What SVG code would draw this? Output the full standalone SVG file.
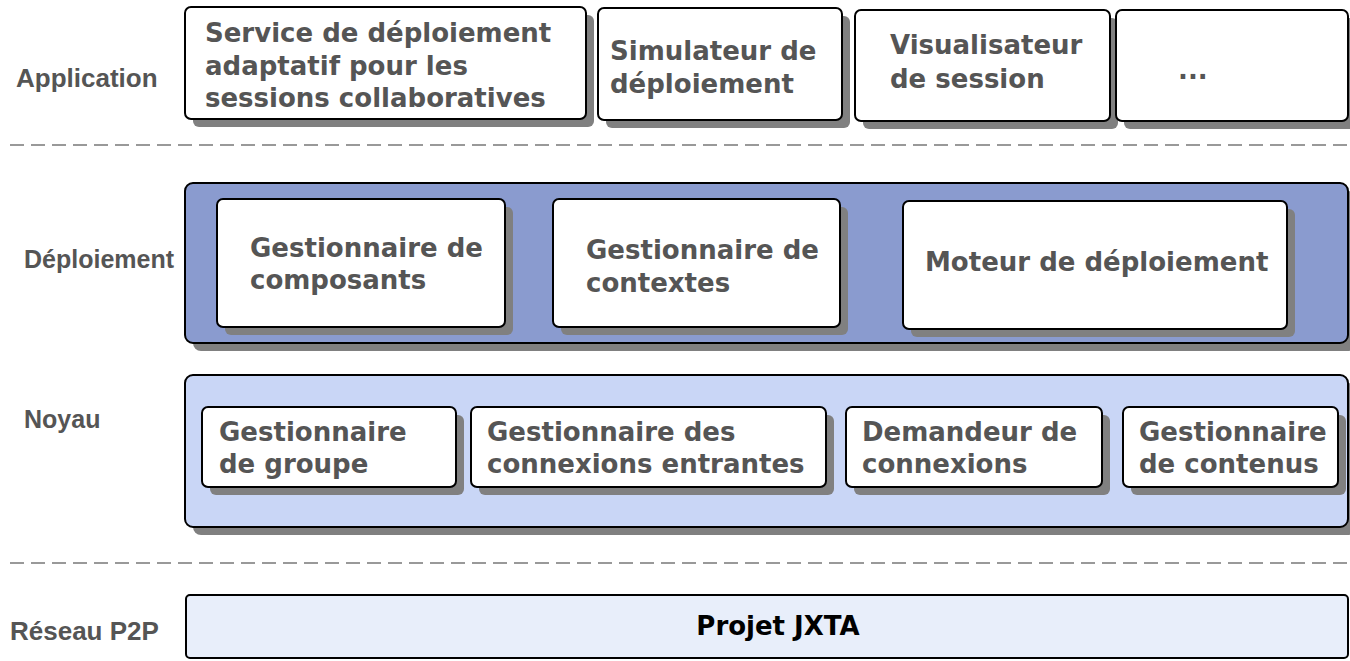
<svg xmlns="http://www.w3.org/2000/svg" width="1350" height="661" viewBox="0 0 1350 661">
  <style>
    .layer-label { font-family: "Liberation Sans", Arial, sans-serif; font-weight: bold; font-size: 26px; fill: #555555; }
    .node-text { font-family: "DejaVu Sans", Verdana, sans-serif; font-weight: bold; font-size: 26px; fill: #555555; }
    .base-text { font-family: "DejaVu Sans", Verdana, sans-serif; font-weight: bold; font-size: 26px; fill: #000000; }
    .box { fill: #ffffff; stroke: #000000; stroke-width: 2; }
    .shadow { fill: #808080; }
    .deploy-layer { fill: #8a9bcf; stroke: #000000; stroke-width: 2; }
    .core-layer { fill: #c9d6f6; stroke: #000000; stroke-width: 2; }
    .net-layer { fill: #e8eefa; stroke: #000000; stroke-width: 2; }
    .separator { stroke: #999999; stroke-width: 2; stroke-dasharray: 14 7; fill: none; }
  </style>

  <!-- layer names -->
  <g id="layer-labels">
    <text class="layer-label" x="16" y="87">Application</text>
    <text class="layer-label" x="24" y="268" style="font-size:25px">Déploiement</text>
    <text class="layer-label" x="24" y="428" style="font-size:25px">Noyau</text>
    <text class="layer-label" x="10" y="640">Réseau P2P</text>
  </g>

  <!-- dashed separators between layers -->
  <g id="separators">
    <line class="separator" x1="10" y1="145" x2="1350" y2="145"/>
    <line class="separator" x1="10" y1="563" x2="1350" y2="563"/>
  </g>

  <!-- application layer -->
  <g id="app-service">
    <rect class="shadow" x="193" y="15" width="401" height="112" rx="6"/>
    <rect class="box" x="185" y="7" width="401" height="112" rx="6"/>
    <text class="node-text"><tspan x="205" y="42">Service de déploiement</tspan><tspan x="205" y="75">adaptatif pour les</tspan><tspan x="205" y="107">sessions collaboratives</tspan></text>
  </g>
  <g id="app-simulator">
    <rect class="shadow" x="606" y="16" width="244" height="112" rx="6"/>
    <rect class="box" x="598" y="8" width="244" height="112" rx="6"/>
    <text class="node-text"><tspan x="610" y="60">Simulateur de</tspan><tspan x="610" y="93">déploiement</tspan></text>
  </g>
  <g id="app-visualizer">
    <rect class="shadow" x="863" y="18" width="255" height="111" rx="6"/>
    <rect class="box" x="855" y="10" width="255" height="111" rx="6"/>
    <text class="node-text"><tspan x="890" y="54">Visualisateur</tspan><tspan x="890" y="88">de session</tspan></text>
  </g>
  <g id="app-more">
    <rect class="shadow" x="1124" y="18" width="232" height="111" rx="6"/>
    <rect class="box" x="1116" y="10" width="232" height="111" rx="6"/>
    <text class="node-text" x="1178" y="79">...</text>
  </g>

  <!-- deployment layer -->
  <g id="deployment">
    <rect class="shadow" x="193" y="191" width="1163" height="160" rx="8"/>
    <rect class="deploy-layer" x="185" y="183" width="1163" height="160" rx="8"/>
  </g>
  <g id="component-manager">
    <rect class="shadow" x="225" y="207" width="288" height="128" rx="6"/>
    <rect class="box" x="217" y="199" width="288" height="128" rx="6"/>
    <text class="node-text"><tspan x="250" y="257">Gestionnaire de</tspan><tspan x="250" y="289">composants</tspan></text>
  </g>
  <g id="context-manager">
    <rect class="shadow" x="561" y="207" width="287" height="128" rx="6"/>
    <rect class="box" x="553" y="199" width="287" height="128" rx="6"/>
    <text class="node-text"><tspan x="586" y="259">Gestionnaire de</tspan><tspan x="586" y="292">contextes</tspan></text>
  </g>
  <g id="deployment-engine">
    <rect class="shadow" x="911" y="209" width="384" height="128" rx="6"/>
    <rect class="box" x="903" y="201" width="384" height="128" rx="6"/>
    <text class="node-text" x="925" y="271">Moteur de déploiement</text>
  </g>

  <!-- core layer -->
  <g id="core">
    <rect class="shadow" x="193" y="383" width="1163" height="152" rx="8"/>
    <rect class="core-layer" x="185" y="375" width="1163" height="152" rx="8"/>
  </g>
  <g id="group-manager">
    <rect class="shadow" x="210" y="415" width="254" height="80" rx="6"/>
    <rect class="box" x="202" y="407" width="254" height="80" rx="6"/>
    <text class="node-text"><tspan x="219" y="441">Gestionnaire</tspan><tspan x="219" y="473">de groupe</tspan></text>
  </g>
  <g id="incoming-connections">
    <rect class="shadow" x="479" y="415" width="355" height="80" rx="6"/>
    <rect class="box" x="471" y="407" width="355" height="80" rx="6"/>
    <text class="node-text"><tspan x="487" y="441">Gestionnaire des</tspan><tspan x="487" y="473">connexions entrantes</tspan></text>
  </g>
  <g id="connection-requester">
    <rect class="shadow" x="854" y="415" width="256" height="80" rx="6"/>
    <rect class="box" x="846" y="407" width="256" height="80" rx="6"/>
    <text class="node-text"><tspan x="862" y="441">Demandeur de</tspan><tspan x="862" y="473">connexions</tspan></text>
  </g>
  <g id="content-manager">
    <rect class="shadow" x="1131" y="415" width="215" height="80" rx="6"/>
    <rect class="box" x="1123" y="407" width="215" height="80" rx="6"/>
    <text class="node-text"><tspan x="1139" y="441">Gestionnaire</tspan><tspan x="1139" y="473">de contenus</tspan></text>
  </g>

  <!-- network layer -->
  <g id="jxta">
    <rect class="net-layer" x="186" y="595" width="1162" height="63" rx="4"/>
    <text class="base-text" x="778" y="635" text-anchor="middle">Projet JXTA</text>
  </g>
</svg>
